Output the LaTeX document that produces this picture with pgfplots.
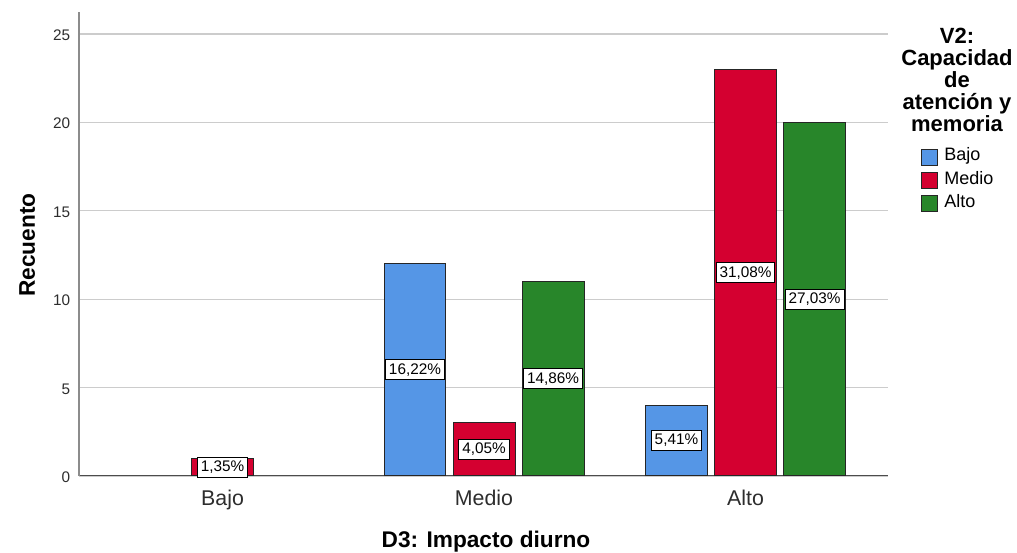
\documentclass[border=0pt]{standalone}
\usepackage{fontspec}
\setmainfont{Liberation Sans}
\usepackage{pgfplots}
\usepackage{pgfplotstable}
\pgfplotsset{compat=1.18}
\definecolor{cbajo}{RGB}{85,150,230}
\definecolor{cmedio}{RGB}{212,0,48}
\definecolor{calto}{RGB}{40,134,42}
\definecolor{txtgray}{RGB}{45,45,45}

\pgfplotstableread{
x y lab
1 12 16,22
2 4 5,41
}\serbajo
\pgfplotstableread{
x y lab
0 1 1,35
1 3 4,05
2 23 31,08
}\sermedio
\pgfplotstableread{
x y lab
1 11 14,86
2 20 27,03
}\seralto

\pgfplotsset{
  barstyle/.style={ybar, bar width=0.237, draw=black!85, line width=0.75pt, fill=#1},
  labstyle/.style={forget plot, only marks, mark=*, mark size=0pt,
    mark options={draw=none, fill=none},
    point meta=explicit symbolic,
    nodes near coords={\pgfplotspointmeta\%},
    nodes near coords align={anchor=center},
    every node near coord/.append style={anchor=center, fill=white, draw=black,
      line width=0.75pt, inner xsep=2.6pt, inner ysep=0pt, minimum height=15pt,
      text=black, font=\fontsize{11.5}{13}\selectfont}},
}

\begin{document}
\begin{tikzpicture}
\begin{axis}[
  at={(0,0)}, anchor=south west,
  width=606.75pt, height=348pt, scale only axis,
  xmin=-0.549, xmax=2.545, ymin=0, ymax=26.24,
  axis x line=bottom, axis y line=left,
  x axis line style={-, black!70, line width=0.75pt},
  y axis line style={-, black!45, line width=0.9pt},
  ytick={0,5,10,15,20,25},
  xtick={0,1,2}, xticklabels={Bajo,Medio,Alto},
  major tick length=0pt,
  ymajorgrids, grid style={black!20, line width=0.9pt},
  /pgf/number format/assume math mode=true,
  yticklabel style={anchor=east, inner sep=0pt, xshift=-6.5pt, yshift=-1pt,
    text=txtgray, font=\fontsize{11.5}{13}\selectfont},
  xticklabel style={anchor=base, inner sep=0pt, yshift=-22.5pt,
    text=txtgray, font=\fontsize{16}{18}\selectfont},
  legend image code/.code={\draw[#1] (0pt,-6pt) rectangle (12pt,6pt);},
  legend style={at={(1.0408,0.7053)}, anchor=north west, draw=none, fill=none,
    inner sep=0pt, row sep=4.6pt, column sep=4.5pt,
    font=\fontsize{13.5}{15}\selectfont,
    nodes={inner sep=0pt, text height=0.72em, text depth=0.2em},
    cells={anchor=west}},
  legend cell align=left,
]
\addplot[barstyle=cbajo] table[x expr=\thisrow{x}-0.264, y=y] {\serbajo};
\addlegendentry{Bajo}
\addplot[barstyle=cmedio] table[x=x, y=y] {\sermedio};
\addlegendentry{Medio}
\addplot[barstyle=calto] table[x expr=\thisrow{x}+0.264, y=y] {\seralto};
\addlegendentry{Alto}

\addplot[labstyle] table[x expr=\thisrow{x}-0.264, y expr=\thisrow{y}/2, meta=lab] {\serbajo};
\addplot[labstyle] table[x=x, y expr=\thisrow{y}/2, meta=lab] {\sermedio};
\addplot[labstyle] table[x expr=\thisrow{x}+0.264, y expr=\thisrow{y}/2, meta=lab] {\seralto};
\end{axis}

\node[rotate=90, anchor=base, font=\fontsize{17}{17}\selectfont\bfseries] at (-33pt,173.25pt) {Recuento};
\node[anchor=base, font=\fontsize{17}{17}\selectfont\bfseries] at (305.25pt,-53.25pt) {D3: Impacto diurno};
\node[anchor=north, align=center, inner sep=0pt, font=\fontsize{16.5}{16.5}\selectfont\bfseries] at (658.5pt,336pt) {V2:\\Capacidad\\de\\atención y\\memoria};

\pgfresetboundingbox
\path (-59.25pt,-57.75pt) rectangle (703.5pt,357pt);
\end{tikzpicture}
\end{document}
